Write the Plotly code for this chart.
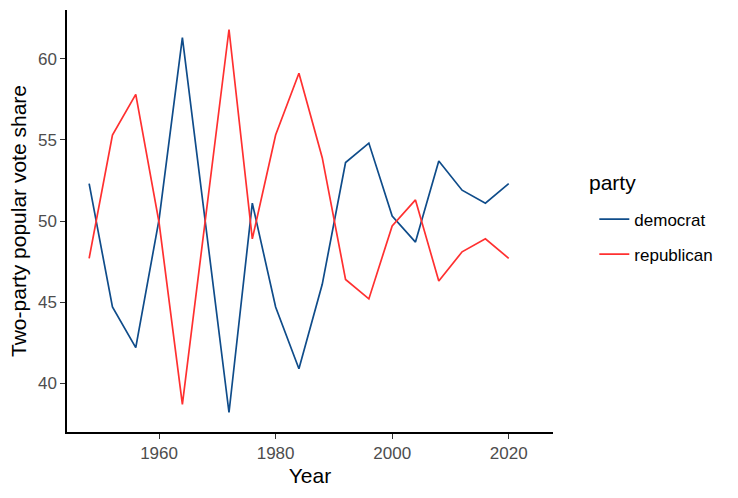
import plotly.graph_objects as go

years = [1948, 1952, 1956, 1960, 1964, 1968, 1972, 1976, 1980, 1984,
         1988, 1992, 1996, 2000, 2004, 2008, 2012, 2016, 2020]
democrat = [52.3, 44.7, 42.2, 50.1, 61.3, 49.6, 38.2, 51.1, 44.7, 40.9,
            46.1, 53.6, 54.8, 50.3, 48.7, 53.7, 51.9, 51.1, 52.3]
republican = [47.7, 55.3, 57.8, 49.9, 38.7, 50.4, 61.8, 48.9, 55.3, 59.1,
              53.9, 46.4, 45.2, 49.7, 51.3, 46.3, 48.1, 48.9, 47.7]
series_names = ["democrat", "republican"]
colors = ["#0F4C8A", "#FF3030"]

fig = go.Figure()
for name, vals, col in zip(series_names, [democrat, republican], colors):
    fig.add_trace(go.Scatter(x=years, y=vals, mode="lines", name=name,
                             legendgroup=name,
                             line=dict(color=col, width=1.7)))

fig.update_layout(
    width=738, height=498,
    margin=dict(l=67, r=185, t=10, b=66),
    paper_bgcolor="white", plot_bgcolor="white",
    font=dict(family="Liberation Sans, Arial, sans-serif", color="black"),
    legend=dict(font=dict(size=17), x=1.085, xanchor="left",
                y=0.462, yanchor="middle", bgcolor="rgba(0,0,0,0)",
                itemwidth=30, tracegroupgap=10),
    annotations=[dict(text="party", xref="paper", yref="paper",
                      x=1.07, y=(432 - 182) / 422, xanchor="left",
                      yanchor="middle", showarrow=False,
                      font=dict(size=21, color="black"))],
    xaxis=dict(range=[1944.2, 2027.6], tickvals=[1960, 1980, 2000, 2020],
               showgrid=False, zeroline=False, showline=True,
               linecolor="black", linewidth=1.5, ticks="outside",
               ticklen=5, tickcolor="#333333", tickwidth=1.1,
               tickfont=dict(size=17, color="#4D4D4D"),
               title=dict(text="Year", font=dict(size=21), standoff=6)),
    yaxis=dict(range=[37.0, 63.0], tickvals=[40, 45, 50, 55, 60],
               showgrid=False, zeroline=False, showline=True,
               linecolor="black", linewidth=1.5, ticks="outside",
               ticklen=5, tickcolor="#333333", tickwidth=1.1,
               tickfont=dict(size=17, color="#4D4D4D"),
               title=dict(text="Two-party popular vote share",
                          font=dict(size=21), standoff=6)),
)

fig.write_html("out.html")
